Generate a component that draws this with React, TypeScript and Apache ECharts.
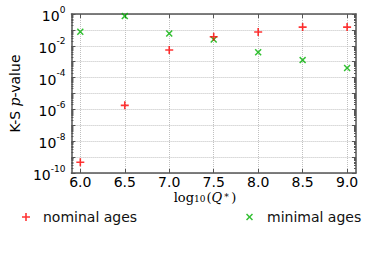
import React, { useEffect, useRef } from "react";
import * as echarts from "echarts";

const xTicks = [6.0, 6.5, 7.0, 7.5, 8.0, 8.5, 9.0];
const nominalX = [6.0, 6.5, 7.0, 7.5, 8.0, 8.5, 9.0];
const nominalP = [4.7e-10, 1.8e-6, 5.4e-3, 3.7e-2, 7.4e-2, 1.5e-1, 1.5e-1];
const minimalX = [6.0, 6.5, 7.0, 7.5, 8.0, 8.5, 9.0];
const minimalP = [7.6e-2, 7.4e-1, 6.0e-2, 2.5e-2, 3.9e-3, 1.26e-3, 4.0e-4];
const seriesNames = ["nominal ages", "minimal ages"];
const decadeExps = [-10, -9, -8, -7, -6, -5, -4, -3, -2, -1];
const minorMults = [2, 3, 4, 5, 6, 7, 8, 9];

const PLUS = "path://M4,0H6V4H10V6H6V10H4V6H0V4H4Z";
const CROSS = "path://M0,1.5L1.5,0L5,3.5L8.5,0L10,1.5L6.5,5L10,8.5L8.5,10L5,6.5L1.5,10L0,8.5L3.5,5Z";
const SANS = "DejaVu Sans";
const SERIF = "DejaVu Serif";

export default function App() {
  const ref = useRef<HTMLDivElement>(null);
  useEffect(() => {
    if (!ref.current) return;
    const chart = echarts.init(ref.current, undefined, { renderer: "svg" });
    const frame = "#555555";
    const grid = { lineStyle: { color: "#c0c0c0", type: "dotted" as const, width: 1 } };
    const minorValues: number[] = [];
    decadeExps.forEach((e) => minorMults.forEach((m) => minorValues.push(m * Math.pow(10, e))));
    const yFmt = (v: number) => {
      const e = Math.round(Math.log10(v));
      if (e % 2 !== 0) return "";
      return `{a|10}{b|${e}}`;
    };
    const minorAxis = (pos: "left" | "right") => ({
      type: "log",
      logBase: 10,
      min: 1e-10,
      max: 1,
      interval: 1,
      position: pos,
      axisLine: { show: false },
      axisTick: { show: true, inside: true, length: 2, customValues: minorValues, lineStyle: { color: frame } },
      axisLabel: { show: false },
      splitLine: { show: false },
    });
    chart.setOption({
      animation: false,
      backgroundColor: "#ffffff",
      grid: { left: 56, top: 14, right: 18, bottom: 107, show: false },
      xAxis: [
        {
          type: "value",
          min: 5.9,
          max: 9.1,
          axisLine: { show: true, onZero: false, lineStyle: { color: frame, width: 1.5 } },
          axisTick: { show: true, inside: true, length: 4, customValues: xTicks, lineStyle: { color: frame } },
          axisLabel: {
            customValues: xTicks,
            formatter: (v: number) => v.toFixed(1),
            fontFamily: SANS,
            fontSize: 14,
            color: "#000",
            margin: 2,
          },
          splitLine: { show: true, ...grid },
        },
        {
          type: "value",
          position: "top",
          min: 5.9,
          max: 9.1,
          axisLine: { show: true, onZero: false, lineStyle: { color: frame, width: 1.5 } },
          axisTick: { show: true, inside: true, length: 4, customValues: xTicks, lineStyle: { color: frame } },
          axisLabel: { show: false, customValues: xTicks },
          splitLine: { show: false },
        },
      ],
      yAxis: [
        {
          type: "log",
          logBase: 10,
          min: 1e-10,
          max: 1,
          interval: 1,
          name: "{s|K-S }{i|p}{s|-value}",
          nameLocation: "middle",
          nameRotate: 90,
          nameGap: 37,
          nameTextStyle: {
            rich: {
              s: { fontFamily: SANS, fontSize: 14, color: "#000" },
              i: { fontFamily: SERIF, fontStyle: "italic", fontSize: 14, color: "#000" },
            },
          },
          axisLine: { show: true, onZero: false, lineStyle: { color: frame, width: 1.5 } },
          axisTick: { show: true, inside: true, length: 4, lineStyle: { color: frame } },
          minorTick: { show: false },
          axisLabel: {
            formatter: yFmt,
            margin: 6,
            rich: {
              a: { fontFamily: SANS, fontSize: 14, color: "#000", lineHeight: 18, verticalAlign: "bottom" },
              b: { fontFamily: SANS, fontSize: 9, color: "#000", lineHeight: 18, verticalAlign: "top", padding: [0, 0, 8, 0] },
            },
          },
          splitLine: { show: true, ...grid },
        },
        {
          type: "log",
          logBase: 10,
          min: 1e-10,
          max: 1,
          interval: 1,
          position: "right",
          axisLine: { show: true, onZero: false, lineStyle: { color: frame, width: 1.5 } },
          axisTick: { show: true, inside: true, length: 4, lineStyle: { color: frame } },
          axisLabel: { show: false },
          splitLine: { show: false },
        },
        minorAxis("left"),
        minorAxis("right"),
      ],
      legend: [
        {
          data: [{ name: seriesNames[0], icon: PLUS }],
          left: 17,
          top: 205,
          itemWidth: 8,
          itemHeight: 8,
          textStyle: { fontFamily: SANS, fontSize: 14, color: "#111", padding: [0, 0, 0, 8] },
        },
        {
          data: [{ name: seriesNames[1], icon: CROSS }],
          left: 241,
          top: 205,
          itemWidth: 7,
          itemHeight: 7,
          textStyle: { fontFamily: SANS, fontSize: 14, color: "#111", padding: [0, 0, 0, 9] },
        },
      ],
      graphic: [
        {
          type: "text",
          x: 205,
          y: 197,
          style: {
            text: "{l|log}{d|10}{l|(}{q|Q}{u|∗}{l|)}",
            align: "center",
            verticalAlign: "middle",
            rich: {
              l: { fontFamily: SERIF, fontSize: 13, color: "#000", lineHeight: 13, verticalAlign: "bottom" },
              d: { fontFamily: SERIF, fontSize: 9, color: "#000", lineHeight: 13, verticalAlign: "bottom", padding: [0, 1, 0, 0] },
              q: { fontFamily: SERIF, fontStyle: "italic", fontSize: 13, color: "#000", lineHeight: 13, verticalAlign: "bottom" },
              u: { fontFamily: SERIF, fontSize: 9, color: "#000", lineHeight: 13, verticalAlign: "top", padding: [0, 2, 0, 1] },
            },
          },
        },
      ],
      series: [
        {
          name: seriesNames[0],
          type: "scatter",
          symbol: PLUS,
          symbolSize: 8,
          itemStyle: { color: "#ff0000" },
          data: nominalX.map((x, i) => [x, nominalP[i]]),
          z: 3,
        },
        {
          name: seriesNames[1],
          type: "scatter",
          symbol: CROSS,
          symbolSize: 7,
          itemStyle: { color: "#00b000" },
          data: minimalX.map((x, i) => [x, minimalP[i]]),
          z: 2,
        },
      ],
    });
    return () => chart.dispose();
  }, []);
  return <div ref={ref} style={{ width: 374, height: 280, position: "absolute", left: 0, top: 0 }} />;
}
